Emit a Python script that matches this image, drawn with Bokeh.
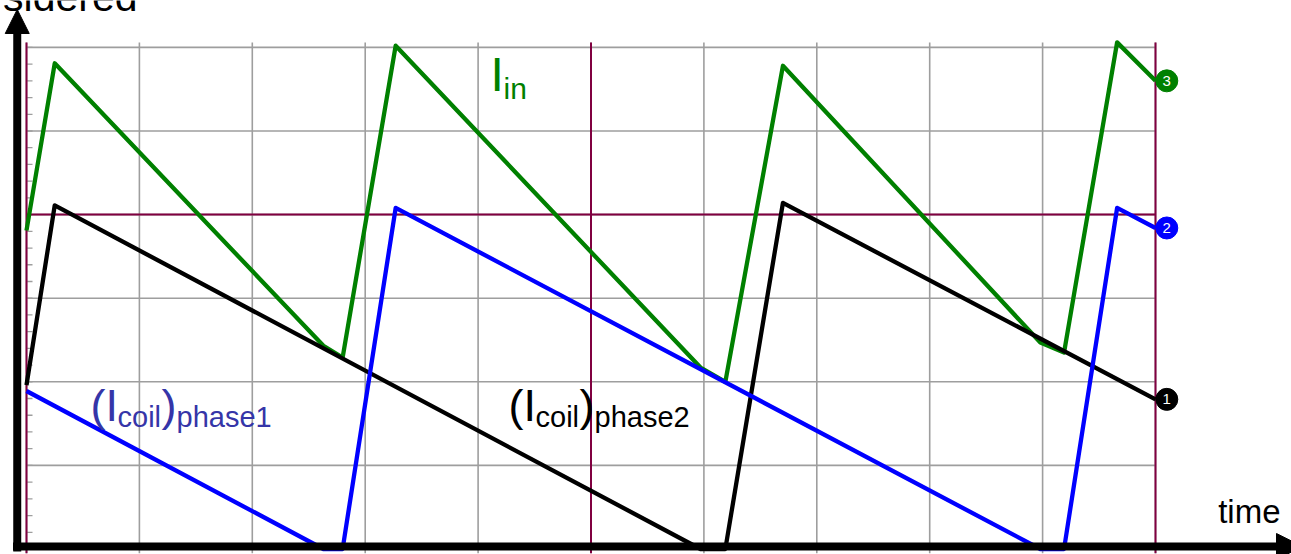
from bokeh.plotting import figure
from bokeh.models import Range1d, Arrow, NormalHead, Label, ColumnDataSource
from bokeh.core.properties import value
from bokeh.embed import file_html
from bokeh.resources import INLINE

# Coil currents of a two-phase interleaved converter (grid divisions)
phase1_t = [0.00, 2.63, 2.80, 3.27, 8.98, 9.19, 9.66, 10.00]
phase1_i = [1.89, 0.00, 0.00, 4.08, 0.00, 0.00, 4.08, 3.84]

phase2_t = [0.00, 0.25, 5.97, 6.19, 6.70, 10.00]
phase2_i = [1.96, 4.11, 0.00, 0.00, 4.14, 1.79]

# Input current
input_t = [0.00, 0.25, 2.63, 2.80, 3.27, 5.97, 6.19, 6.70, 8.98, 9.19, 9.66, 10.00]
input_i = [3.81, 5.81, 2.43, 2.29, 6.02, 2.17, 2.00, 5.78, 2.47, 2.35, 6.06, 5.60]

# Graticule
time_divs = list(range(0, 11))
current_divs = list(range(0, 7))
marked_time_divs = [0, 5, 10]
marked_current_divs = [4]
minor_current = [k / 5 for k in range(0, 31)]

W, H = 1291, 554
X0, XS = 26.0, 112.9      # pixel of t=0, pixels per division
Y0, YS = 548.5, 83.6      # pixel of i=0, pixels per division

p = figure(width=W, height=H, output_backend="svg", toolbar_location=None,
           x_range=Range1d(-X0 / XS, (W - X0) / XS),
           y_range=Range1d((Y0 - H) / YS, Y0 / YS),
           min_border=0, background_fill_color="white",
           border_fill_color="white")
p.axis.visible = False
p.grid.visible = False
p.outline_line_color = None

FONT = value("Liberation Sans")
GRID = "#9e9e9e"
MAROON = "#800040"
t_max = time_divs[-1]
i_top = 6.06

# gray grid
p.segment(x0=time_divs, x1=time_divs, y0=[-0.05] * len(time_divs), y1=[i_top] * len(time_divs),
          line_color=GRID, line_width=1.6)
p.segment(x0=[0] * len(current_divs), x1=[t_max] * len(current_divs), y0=current_divs, y1=current_divs,
          line_color=GRID, line_width=1.6)
# minor ticks on the left edge
tick_len = 6 / XS
p.segment(x0=[0] * len(minor_current), x1=[tick_len] * len(minor_current),
          y0=minor_current, y1=minor_current, line_color=GRID, line_width=1.3)
# highlighted reference lines
p.segment(x0=marked_time_divs, x1=marked_time_divs, y0=[-0.05] * 3, y1=[i_top] * 3,
          line_color=MAROON, line_width=2)
p.segment(x0=[0], x1=[t_max], y0=marked_current_divs, y1=marked_current_divs,
          line_color=MAROON, line_width=2)

# traces
p.line(input_t, input_i, line_color="#008000", line_width=4.3, line_join="round")
p.line(phase2_t, phase2_i, line_color="black", line_width=4.3, line_join="round")
p.line(phase1_t, phase1_i, line_color="#0000ff", line_width=4.3, line_join="round")

# channel markers at the trace ends
ends = ColumnDataSource(dict(
    x=[phase2_t[-1] + 0.1, phase1_t[-1] + 0.1, input_t[-1] + 0.1],
    y=[phase2_i[-1], phase1_i[-1], input_i[-1]],
    c=["black", "#0000ff", "#008000"],
    n=["1", "2", "3"],
))
p.scatter("x", "y", source=ends, size=22, fill_color="c", line_color="c")
p.text("x", "y", text="n", source=ends, text_color="white", text_font=FONT,
       text_font_size="15px", text_align="center", text_baseline="middle")

# axes drawn as arrows
p.add_layout(Arrow(end=NormalHead(size=24, fill_color="black", line_color="black"),
                   x_start=-0.082, y_start=(Y0 - 551) / YS, x_end=-0.082, y_end=(Y0 - 9) / YS,
                   line_width=8, line_color="black"))
p.add_layout(Arrow(end=NormalHead(size=26, fill_color="black", line_color="black"),
                   x_start=(12.5 - X0) / XS, y_start=(Y0 - 546) / YS,
                   x_end=(1302 - X0) / XS, y_end=(Y0 - 546) / YS,
                   line_width=8, line_color="black"))


def label(text, x, baseline, size, color, align="left"):
    # baseline given in pixels from the top of the canvas
    y = baseline - 0.37 * size
    p.add_layout(Label(x=x, y=H - y, x_units="screen", y_units="screen", text=text,
                       text_font="Liberation Sans", text_font_size=f"{size}px",
                       text_color=color, text_align=align, text_baseline="alphabetic"))


label("sidered", 137, 12, 41, "black", align="right")
label("time", 1280, 523, 33, "black", align="right")

# I_in
label("I", 490, 92, 48, "#008000")
label("in", 503, 99, 30, "#008000")

# (I_coil)_phase1
BLUE_TXT = "#3535a8"
label("(I", 90, 422, 45, BLUE_TXT)
label("coil", 117, 427, 29, BLUE_TXT)
label(")", 161, 422, 45, BLUE_TXT)
label("phase1", 176, 427, 29, BLUE_TXT)

# (I_coil)_phase2
label("(I", 508, 422, 45, "black")
label("coil", 535, 427, 29, "black")
label(")", 579, 422, 45, "black")
label("phase2", 594, 427, 29, "black")

open("out.html", "w").write(file_html(p, INLINE))
